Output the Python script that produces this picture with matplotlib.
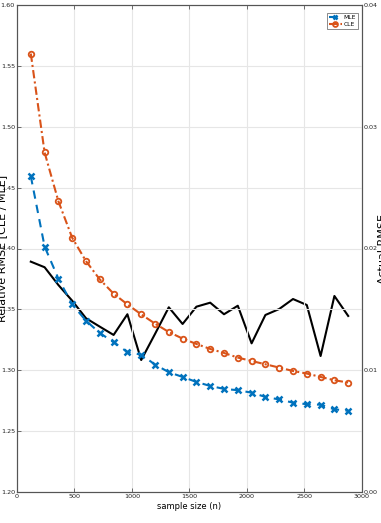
import matplotlib
matplotlib.use("Agg")
import matplotlib.pyplot as plt

plt.rcParams['font.family'] = ['Liberation Sans Narrow', 'DejaVu Sans']

sample_size = [120, 240, 360, 480, 600, 720, 840, 960, 1080, 1200, 1320, 1440,
               1560, 1680, 1800, 1920, 2040, 2160, 2280, 2400, 2520, 2640, 2760, 2880]
mle_rel = [1.4594, 1.4016, 1.3752, 1.3541, 1.3407, 1.3306, 1.3230, 1.3150, 1.3128, 1.3047,
           1.2984, 1.2945, 1.2904, 1.2871, 1.2847, 1.2836, 1.2816, 1.2781, 1.2760, 1.2734,
           1.2721, 1.2717, 1.2679, 1.2668]
cle_rel = [1.5601, 1.4789, 1.4388, 1.4088, 1.3896, 1.3746, 1.3629, 1.3541, 1.3459, 1.3383,
           1.3314, 1.3260, 1.3216, 1.3175, 1.3142, 1.3104, 1.3076, 1.3049, 1.3022, 1.2994,
           1.2973, 1.2945, 1.2918, 1.2899]
actual_rmse = [0.01892, 0.01846, 0.01700, 0.01571, 0.01427, 0.01358, 0.01290, 0.01460,
               0.01084, 0.01298, 0.01517, 0.01380, 0.01522, 0.01555, 0.01460, 0.01530,
               0.01221, 0.01454, 0.01503, 0.01585, 0.01536, 0.01117, 0.01610, 0.01446]

x_ticks = [0, 500, 1000, 1500, 2000, 2500, 3000]
left_ticks = [1.20, 1.25, 1.30, 1.35, 1.40, 1.45, 1.50, 1.55, 1.60]
left_labels = ['1.20', '1.25', '1.30', '1.35', '1.40', '1.45', '1.50', '1.55', '1.60']
right_ticks = [0.00, 0.01, 0.02, 0.03, 0.04]
right_labels = ['0.00', '0.01', '0.02', '0.03', '0.04']

W, H = 381, 523
fig = plt.figure(figsize=(W / 100, H / 100), dpi=100)
ax = fig.add_axes([17 / W, 1 - 492 / H, (362 - 17) / W, (492 - 5) / H])
ax2 = ax.twinx()

spine_col = '#555555'
grid_col = '#e6e6e6'

l1, = ax.plot(sample_size, mle_rel, color='#0072BD', linestyle=(0, (4, 3)), linewidth=1.5,
              marker='x', markersize=4, markeredgewidth=1.8, label='MLE')
l2, = ax.plot(sample_size, cle_rel, color='#D95319', linestyle=(0, (4, 1.5, 1, 1.5)), linewidth=1.5,
              marker='o', markersize=4, markeredgewidth=1.3, markerfacecolor='none', label='CLE')
ax2.plot(sample_size, actual_rmse, color='black', linewidth=1.5)

ax.set_xlim(0, 3000)
ax.set_ylim(1.20, 1.60)
ax2.set_ylim(0.0, 0.04)

ax.set_xticks(x_ticks)
ax.set_xticklabels([str(t) for t in x_ticks])
ax.set_yticks(left_ticks)
ax.set_yticklabels(left_labels)
ax2.set_yticks(right_ticks)
ax2.set_yticklabels(right_labels)

ax.grid(True, color=grid_col, linewidth=0.8)
ax.set_axisbelow(True)

for a in (ax, ax2):
    for s in a.spines.values():
        s.set_color(spine_col)
        s.set_linewidth(0.8)

ax.tick_params(axis='both', direction='in', length=3, width=0.6, colors=spine_col,
               labelsize=4.6, labelcolor='#222222', top=True, pad=1.5)
ax2.tick_params(axis='y', direction='in', length=3, width=0.6, colors=spine_col,
                labelsize=4.6, labelcolor='#222222', pad=1.5)

ax.set_xlabel('sample size (n)', fontsize=6, labelpad=2)
ax.set_ylabel('Relative RMSE [CLE / MLE]', fontsize=8, family=['DejaVu Sans'])
ax2.set_ylabel('Actual RMSE', fontsize=8, family=['DejaVu Sans'], rotation=90)
ax.yaxis.set_label_coords(-0.028, 0.5)
ax2.yaxis.set_label_coords(1.045, 0.5)

leg = ax.legend(handles=[l1, l2], loc='upper right', fontsize=4.3, frameon=True, fancybox=False,
                edgecolor=spine_col, handlelength=2.2, borderpad=0.3, labelspacing=0.3,
                handletextpad=0.3, borderaxespad=0.0, bbox_to_anchor=(0.988, 0.984))
leg.get_frame().set_linewidth(0.6)
for h in leg.legend_handles:
    h.set_markersize(3.5)
ax.set_zorder(ax2.get_zorder() + 1)
ax.patch.set_visible(False)

fig.savefig('out.png', dpi=100)
